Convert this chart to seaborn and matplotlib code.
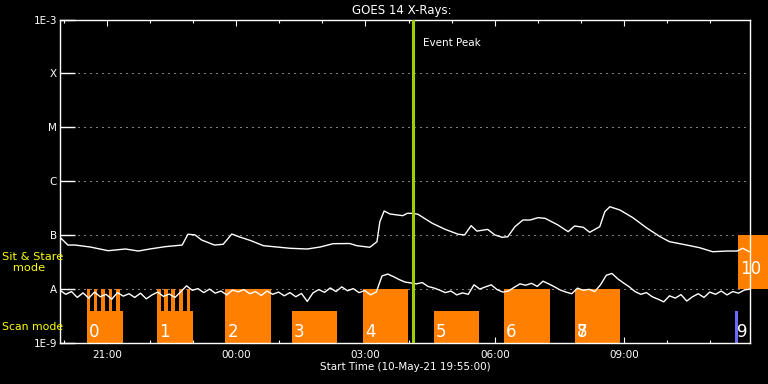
import numpy as np
import pandas as pd
import matplotlib
matplotlib.use('Agg')
import matplotlib.pyplot as plt
import matplotlib.dates as mdates
import matplotlib.transforms as mtransforms
from matplotlib.ticker import NullLocator
import seaborn as sns

# --- data -------------------------------------------------------------
start = pd.Timestamp('2021-05-10 19:55:00')
end = start + pd.Timedelta(hours=16)
peak_clock = '04:06'

# GOES 14 long channel (1-8 A): minutes after start, flux in 1e-8 W/m^2
long_min = [1, 11, 21, 42, 67, 91, 109, 125, 146, 170,
            178, 188, 197, 215, 227, 239, 250, 265, 283, 320,
            344, 362, 380, 403, 413, 431, 441, 445, 451, 459,
            477, 483, 490, 498, 518, 536, 554, 563, 572, 580,
            595, 605, 615, 623, 633, 644, 654, 665, 675, 693,
            707, 716, 728, 737, 751, 758, 765, 779, 797, 817,
            835, 848, 872, 890, 908, 928, 942, 950, 959]
long_e8 = [8.85, 6.56, 6.56, 6.03, 5.15, 5.54, 5.08, 5.54, 6.11, 6.56,
           10.4, 10.1, 8.13, 6.56, 6.77, 10.5, 9.25, 7.96, 6.38, 5.71,
           5.54, 6.03, 6.95, 7.0, 6.38, 5.96, 7.57, 17.8, 28.1, 24.7,
           23.0, 25.4, 25.4, 24.4, 16.6, 12.8, 10.4, 10.1, 15.0, 11.9,
           12.8, 10.1, 9.13, 9.35, 14.4, 19.1, 19.1, 21.1, 20.5, 15.4,
           11.6, 14.8, 14.0, 11.3, 14.4, 27.2, 33.7, 29.3, 21.1, 13.4,
           9.35, 7.57, 6.56, 5.85, 4.93, 5.08, 5.08, 5.71, 4.93]

# short channel (0.5-4 A), one sample every 8 minutes, flux in 1e-9 W/m^2
short_e9 = [9.5, 8.0, 9.0, 7.0, 8.5, 6.8, 8.8, 7.2, 8.0, 6.5,
            8.6, 7.4, 8.2, 7.0, 8.4, 6.6, 7.8, 8.8, 7.3, 8.1,
            7.0, 8.9, 11.5, 9.5, 10.2, 8.6, 10.0, 8.4, 9.2, 7.8,
            9.6, 8.9, 9.8, 8.2, 9.0, 7.6, 9.2, 8.0, 8.8, 7.5,
            8.6, 7.2, 8.3, 5.9, 8.5, 9.8, 8.7, 10.5, 9.0, 11.0,
            9.3, 10.2, 8.6, 9.4, 7.8, 8.8, 17.5, 19.0, 17.0, 15.0,
            13.5, 13.0, 12.5, 13.2, 11.2, 10.5, 9.6, 8.6, 9.2, 7.8,
            8.5, 8.0, 12.0, 10.0, 11.0, 12.0, 9.8, 8.8, 9.2, 10.8,
            12.5, 11.8, 12.8, 11.2, 14.0, 12.5, 11.0, 9.6, 8.8, 8.2,
            10.4, 9.5, 9.9, 9.0, 12.0, 18.0, 19.5, 15.5, 13.0, 11.0,
            9.0, 8.0, 8.6, 7.2, 6.5, 5.8, 7.5, 6.8, 7.9, 6.0,
            7.2, 8.2, 7.0, 8.8, 8.0, 9.2, 7.8, 9.0, 8.4, 9.6,
            10.0]
short_step_min = 8

class_levels = [1e-9, 1e-8, 1e-7, 1e-6, 1e-5, 1e-4, 1e-3]
class_labels = ['1E-9', 'A', 'B', 'C', 'M', 'X', '1E-3']

# IRIS observations
obs_labels = ['0', '1', '2', '3', '4', '5', '6', '7', '8', '9', '10']
obs_start = ['20:32', '22:10', '23:45', '01:18', '02:57', '04:35', '06:13', '07:51', '07:51', '11:34', '11:38']
obs_end = ['21:23', '23:00', '00:49', '02:21', '03:59', '05:38', '07:17', '08:54', '08:54', '11:38', '12:20']
obs_mode = ['scan', 'scan', 'sit', 'scan', 'sit', 'scan', 'sit', 'sit', 'sit', 'scan', 'sit']

# short sit & stare pulses inside observations 0 and 1
pulse_start = ['20:32', '20:42', '20:52', '21:03', '21:13', '22:10', '22:20', '22:30', '22:41', '22:51']
pulse_end = ['20:37', '20:47', '20:58', '21:08', '21:18', '22:15', '22:25', '22:35', '22:46', '22:56']

mode_range = {'scan': (1e-9, 4e-9), 'sit': (1e-9, 1e-8)}


def clock(s):
    t = start.normalize() + pd.Timedelta(s + ':00')
    if t < start:
        t += pd.Timedelta(days=1)
    return t


# --- style ------------------------------------------------------------
sns.set_theme(style='dark', rc={
    'figure.facecolor': 'black', 'axes.facecolor': 'black',
    'axes.edgecolor': 'white', 'axes.labelcolor': 'white',
    'text.color': 'white', 'xtick.color': 'white', 'ytick.color': 'white',
    'axes.linewidth': 1.0, 'font.size': 7.5,
})
plt.rcParams['font.family'] = ['DejaVu Sans']

orange = '#ff8000'
fig = plt.figure(figsize=(7.68, 3.84), dpi=100)
ax = fig.add_axes([60 / 768, 41 / 384, 690 / 768, 323.5 / 384])

long_df = pd.DataFrame({'time': [start + pd.Timedelta(minutes=m) for m in long_min],
                        'flux': [v * 1e-8 for v in long_e8]})
short_df = pd.DataFrame({'time': [start + pd.Timedelta(minutes=short_step_min * i) for i in range(len(short_e9))],
                         'flux': [v * 1e-9 for v in short_e9]})

sns.lineplot(data=long_df, x='time', y='flux', ax=ax, color='white', lw=1.0, zorder=4)
sns.lineplot(data=short_df, x='time', y='flux', ax=ax, color='white', lw=1.0, zorder=4)

# observation bars
for lab, s, e, mode in zip(obs_labels, obs_start, obs_end, obs_mode):
    t0 = mdates.date2num(clock(s))
    t1 = mdates.date2num(clock(e))
    lo, hi = mode_range[mode]
    color = orange
    if lab == '9':
        color = '#6a6aff'
    if lab == '10':
        lo, hi = 1e-8, 1e-7
    ax.bar(t0, hi - lo, width=t1 - t0, bottom=lo, align='edge', color=color,
           lw=0, zorder=2, clip_on=(lab != '10'))
    if lab == '10':
        ax.annotate(lab, xy=(t0, np.sqrt(lo * hi)), xytext=(1.4, -5), textcoords='offset points',
                    ha='left', va='center', fontsize=12, color='white', zorder=5,
                    annotation_clip=False)
    else:
        ax.annotate(lab, xy=(t0, 1e-9), xytext=(1.4, 8), textcoords='offset points',
                    ha='left', va='center', fontsize=12, color='white', zorder=5)

for s, e in zip(pulse_start, pulse_end):
    t0 = mdates.date2num(clock(s))
    t1 = mdates.date2num(clock(e))
    lo, hi = mode_range['sit']
    ax.bar(t0, hi - lo, width=t1 - t0, bottom=lo, align='edge', color=orange, lw=0, zorder=2)

# event peak
peak = mdates.date2num(clock(peak_clock))
ax.axvline(peak, color='#9fcf00', lw=2.2, zorder=5)
ax.annotate('Event Peak', xy=(peak, 1), xycoords=('data', 'axes fraction'),
            xytext=(7.5, -17), textcoords='offset points', ha='left', va='center',
            fontsize=7.5, color='white')

# axes
ax.set_yscale('log')
ax.set_ylim(class_levels[0], class_levels[-1])
ax.set_xlim(mdates.date2num(start), mdates.date2num(end))
ax.set_yticks(class_levels)
ax.set_yticklabels(class_labels)
ax.yaxis.set_minor_locator(NullLocator())
ax.yaxis.grid(True, color='white', lw=0.72, linestyle=(0, (1, 5)))
ax.xaxis.grid(False)
ax.set_axisbelow(True)

ax.xaxis.set_major_locator(mdates.HourLocator(byhour=range(0, 24, 3)))
ax.xaxis.set_minor_locator(mdates.HourLocator())
ax.xaxis.set_major_formatter(mdates.DateFormatter('%H:%M'))
ax.tick_params(axis='x', which='both', direction='in', top=True, bottom=True, width=0.8,
               labelsize=7.5, pad=5)
ax.tick_params(axis='x', which='major', length=4.3)
ax.tick_params(axis='x', which='minor', length=2.2)
ax.tick_params(axis='y', which='major', direction='in', left=True, right=False,
               length=10.8, width=1.0, labelsize=7.5, pad=2)

ax.set_xlabel('Start Time (' + start.strftime('%d-%b-%y %H:%M:%S') + ')', fontsize=7.5, labelpad=1.5)
ax.set_ylabel('')
ax.set_title('GOES 14 X-Rays:', x=0.496, pad=4, fontsize=8.5, color='white')

# mode captions on the left margin
trans = mtransforms.blended_transform_factory(fig.transFigure, ax.transData)
ax.text(2 / 768, np.sqrt(1e-8 * 1e-7), 'Sit & Stare\n   mode', transform=trans, ha='left', va='center',
        color='#ffff00', fontsize=8.2, linespacing=1.15)
ax.text(2 / 768, np.sqrt(np.prod(mode_range['scan'])), 'Scan mode', transform=trans, ha='left', va='center',
        color='#ffff00', fontsize=7.8)

fig.savefig('out.png', dpi=100, facecolor='black')
